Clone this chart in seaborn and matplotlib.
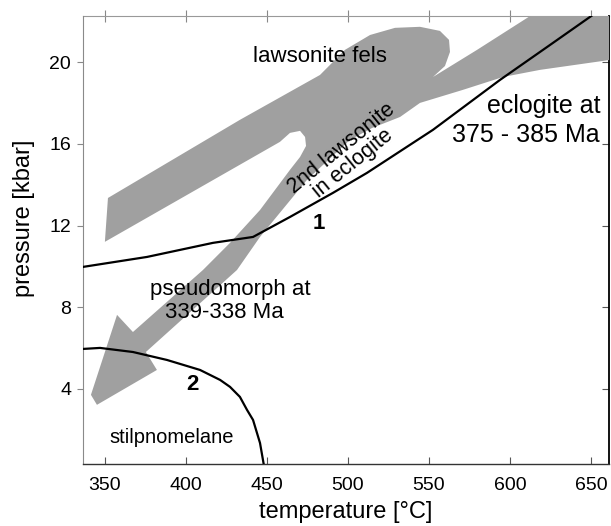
import numpy as np
import pandas as pd
import matplotlib
matplotlib.use("Agg")
import matplotlib.pyplot as plt
import seaborn as sns

# ---- data (temperature in °C, pressure in kbar) ----
# outline of the grey P-T path band (lawsonite fels -> 2nd lawsonite -> pseudomorph)
band_T = [350.1, 458.1, 464.3, 470.5, 473.6, 474.2, 470.5, 464.3, 445.8, 427.3,
          410.6, 367.4, 357.6, 341.5, 345.2, 382.2, 375.4, 431.6, 445.8, 474.8,
          501.3, 514.9, 532.2, 544.5, 571.0, 595.7, 618.6, 662.0, 662.0, 615.0,
          579.7, 552.5, 559.9, 563.0, 562.4, 556.8, 544.5, 529.1, 513.7, 498.2,
          482.8, 433.4, 352.0]
band_P = [11.2, 16.1, 16.54, 16.64, 16.34, 15.9, 15.36, 14.73, 12.76, 11.15,
          9.82, 6.78, 7.62, 3.70, 3.21, 4.92, 5.80, 9.82, 11.44, 14.24,
          16.2, 16.78, 17.32, 18.01, 18.65, 19.28, 19.63, 20.12, 22.4, 22.4,
          20.61, 19.28, 19.82, 20.51, 21.1, 21.54, 21.74, 21.69, 21.34, 20.61,
          19.38, 17.18, 13.35]

# reaction curve 1
r1_T = [336.5, 376.1, 416.8, 441.5, 464.3, 490.8, 511.8, 552.5, 593.9, 624.7, 652.5]
r1_P = [9.97, 10.46, 11.15, 11.44, 12.42, 13.6, 14.58, 16.69, 19.14, 20.85, 22.4]

# reaction curve 2
r2_T = [336.5, 347.1, 367.4, 388.4, 408.8, 421.2, 427.3, 433.4, 437.8, 441.5, 445.8, 448.3]
r2_P = [5.95, 6.0, 5.8, 5.41, 4.92, 4.43, 4.09, 3.6, 2.96, 2.47, 1.34, 0.2]

xticks = [350, 400, 450, 500, 550, 600, 650]
yticks = [4, 8, 12, 16, 20]

sns.set_theme(style="ticks")
plt.rcParams['font.family'] = ['Liberation Sans', 'DejaVu Sans']
plt.rcParams['text.color'] = 'black'
plt.rcParams['axes.labelcolor'] = 'black'

fig = plt.figure(figsize=(6.11, 5.26), dpi=100)
ax = fig.add_axes([83 / 611, 62 / 526, 526 / 611, 448 / 526])

ax.fill(band_T, band_P, color='#a0a0a0', lw=0, zorder=1)

df1 = pd.DataFrame({'T': r1_T, 'P': r1_P})
df2 = pd.DataFrame({'T': r2_T, 'P': r2_P})
sns.lineplot(data=df1, x='T', y='P', sort=False, estimator=None,
             color='black', lw=1.6, ax=ax, zorder=3)
sns.lineplot(data=df2, x='T', y='P', sort=False, estimator=None,
             color='black', lw=1.6, ax=ax, zorder=3)

ax.set_xlim(336.6, 661.1)
ax.set_ylim(0.31, 22.27)
ax.set_xticks(xticks)
ax.set_yticks(yticks)
ax.tick_params(axis='x', direction='in', length=5, width=0.8, color='#555555',
               pad=9, labelsize=14, labelcolor='black')
ax.tick_params(axis='y', direction='out', length=4.3, width=0.8, color='#888888',
               pad=4.3, labelsize=14, labelcolor='black')

for s in ['top', 'right']:
    ax.spines[s].set_visible(False)
ax.spines['left'].set_color('#8a8a8a')
ax.spines['left'].set_linewidth(0.8)
ax.spines['bottom'].set_color('#333333')
ax.spines['bottom'].set_linewidth(1.0)

top = ax.secondary_xaxis('top')
top.set_xticks(xticks)
top.tick_params(direction='inout', length=8.6, width=0.8, color='#888888', labeltop=False)
top.spines['top'].set_color('#999999')
top.spines['top'].set_linewidth(0.8)

right = ax.secondary_yaxis('right')
right.set_yticks(yticks)
right.tick_params(direction='in', length=5, width=0.8, color='#555555', labelright=False)
right.spines['right'].set_color('black')
right.spines['right'].set_linewidth(1.3)

ax.set_xlabel('temperature [°C]', fontsize=17, color='black')
ax.set_ylabel('pressure [kbar]', fontsize=17, color='black')
ax.xaxis.set_label_coords(0.5, -0.083)
ax.yaxis.set_label_coords(-0.091, 0.549)

# labels
ax.text(482.8, 20.02, 'lawsonite fels', fontsize=16, ha='center', va='baseline', zorder=4)
ax.text(655.6, 17.52, 'eclogite at', fontsize=18, ha='right', va='baseline', zorder=4)
ax.text(655.6, 16.1, '375 - 385 Ma', fontsize=18, ha='right', va='baseline', zorder=4)
ax.text(427.3, 8.6, 'pseudomorph at', fontsize=16, ha='center', va='baseline', zorder=4)
ax.text(423.6, 7.47, '339-338 Ma', fontsize=16, ha='center', va='baseline', zorder=4)
ax.text(496.0, 15.8, '2nd lawsonite', fontsize=15.5, rotation=39,
        ha='center', va='center', rotation_mode='anchor', zorder=4)
ax.text(503.0, 15.05, 'in eclogite', fontsize=15.5, rotation=39,
        ha='center', va='center', rotation_mode='anchor', zorder=4)
ax.text(482.3, 12.08, '1', fontsize=16, fontweight='bold', ha='center', va='center', zorder=4)
ax.text(403.9, 4.19, '2', fontsize=16, fontweight='bold', ha='center', va='center', zorder=4)
ax.text(391.5, 1.34, 'stilpnomelane', fontsize=14.5, ha='center', va='baseline', zorder=4)

fig.savefig('out.png', dpi=100)
